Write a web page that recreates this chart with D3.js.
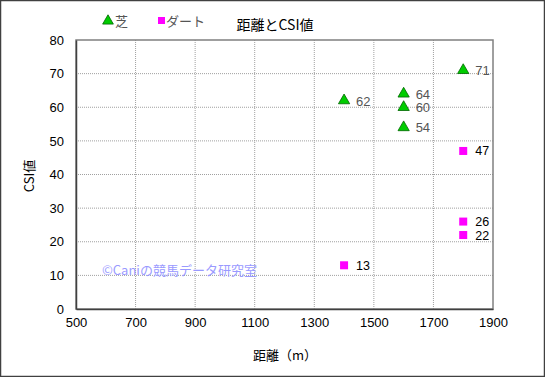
<!DOCTYPE html>
<html>
<head>
<meta charset="utf-8">
<script src="https://cdn.jsdelivr.net/npm/d3@7"></script>
<style>
  body { margin: 0; background: #fff; }
  svg { display: block; font-family: "Liberation Sans", "Noto Sans CJK JP", sans-serif; }
</style>
</head>
<body>
<div id="chart"></div>
<script>
// data
var turfDist = [1400, 1600, 1600, 1600, 1800];
var turfCsi = [62, 64, 60, 54, 71];
var dirtDist = [1400, 1800, 1800, 1800];
var dirtCsi = [13, 47, 26, 22];
var xTicks = [500, 700, 900, 1100, 1300, 1500, 1700, 1900];
var yTicks = [0, 10, 20, 30, 40, 50, 60, 70, 80];

var W = 545, H = 377;
var margin = { top: 40, right: 52, bottom: 68, left: 76 };
var width = W - margin.left - margin.right,
    height = H - margin.top - margin.bottom;

var svg = d3.select("#chart").append("svg")
    .attr("width", W)
    .attr("height", H);

// outer frame
svg.append("rect")
    .attr("x", 0.5).attr("y", 0.5)
    .attr("width", W - 1).attr("height", H - 1)
    .attr("fill", "#fff")
    .attr("stroke", "#404040")
    .attr("stroke-width", 1.5);

var g = svg.append("g")
    .attr("transform", "translate(" + margin.left + "," + margin.top + ")");

var x = d3.scaleLinear().domain([500, 1900]).range([0, width]);
var y = d3.scaleLinear().domain([0, 80]).range([height, 0]);

// grid
g.selectAll(".vgrid").data(xTicks.slice(1, -1)).enter().append("line")
    .attr("x1", function(d) { return x(d); }).attr("x2", function(d) { return x(d); })
    .attr("y1", 0).attr("y2", height)
    .attr("stroke", "#a0a0a0").attr("stroke-dasharray", "1,1");
g.selectAll(".hgrid").data(yTicks.slice(1, -1)).enter().append("line")
    .attr("y1", function(d) { return y(d); }).attr("y2", function(d) { return y(d); })
    .attr("x1", 0).attr("x2", width)
    .attr("stroke", "#a0a0a0").attr("stroke-dasharray", "1,1");

// plot frame
g.append("rect")
    .attr("width", width).attr("height", height)
    .attr("fill", "none").attr("stroke", "#808080").attr("stroke-width", 1.5);

// axes
var xAxis = d3.axisBottom(x).tickValues(xTicks).tickSize(0).tickPadding(9).tickFormat(d3.format("d"));
var yAxis = d3.axisLeft(y).tickValues(yTicks).tickSize(0).tickPadding(12).tickFormat(d3.format("d"));

var xg = g.append("g").attr("transform", "translate(0," + height + ")").call(xAxis);
var yg = g.append("g").call(yAxis);
[xg, yg].forEach(function(a) {
    a.select(".domain").attr("stroke", "#404040").attr("stroke-width", 1.5);
    a.selectAll("text").attr("font-size", 13).attr("fill", "#000")
        .attr("font-family", "Liberation Sans, sans-serif");
});

// watermark
g.append("text")
    .attr("x", 26).attr("y", 235)
    .attr("font-size", 13).attr("fill", "#9a9aff")
    .attr("font-family", "Noto Sans CJK JP, sans-serif")
    .text("©Caniの競馬データ研究室");

// turf markers
var tri = d3.symbol().type(d3.symbolTriangle).size(55);
turfDist.forEach(function(d, i) {
    g.append("path")
        .attr("d", tri)
        .attr("transform", "translate(" + x(d) + "," + y(turfCsi[i]) + ")")
        .attr("fill", "#00cc00").attr("stroke", "#006600").attr("stroke-width", 0.8);
    g.append("text")
        .attr("x", x(d) + 12).attr("y", y(turfCsi[i]) + 5)
        .attr("font-size", 13).attr("fill", "#555")
        .text(turfCsi[i]);
});

// dirt markers
dirtDist.forEach(function(d, i) {
    g.append("rect")
        .attr("x", x(d) - 4).attr("y", y(dirtCsi[i]) - 4)
        .attr("width", 8).attr("height", 8)
        .attr("fill", "#ff00ff");
    g.append("text")
        .attr("x", x(d) + 12).attr("y", y(dirtCsi[i]) + 4.5)
        .attr("font-size", 12.5).attr("fill", "#000")
        .text(dirtCsi[i]);
});

// titles
svg.append("text")
    .attr("x", 275).attr("y", 30)
    .attr("text-anchor", "middle")
    .attr("font-size", 14).attr("fill", "#000")
    .attr("font-family", "Noto Sans CJK JP, sans-serif")
    .text("距離とCSI値");

svg.append("text")
    .attr("x", 285).attr("y", 360)
    .attr("text-anchor", "middle")
    .attr("font-size", 13).attr("fill", "#000")
    .attr("font-family", "Noto Sans CJK JP, sans-serif")
    .text("距離（m）");

svg.append("text")
    .attr("transform", "translate(34,176) rotate(-90)")
    .attr("text-anchor", "middle")
    .attr("font-size", 13).attr("fill", "#000")
    .attr("font-family", "Noto Sans CJK JP, sans-serif")
    .text("CSI値");

// legend
var legend = svg.append("g");
legend.append("path")
    .attr("d", d3.symbol().type(d3.symbolTriangle).size(50))
    .attr("transform", "translate(108,21)")
    .attr("fill", "#00cc00").attr("stroke", "#006600").attr("stroke-width", 0.8);
legend.append("text")
    .attr("x", 115).attr("y", 26)
    .attr("font-size", 13).attr("fill", "#555")
    .attr("font-family", "Noto Sans CJK JP, sans-serif")
    .text("芝");
legend.append("rect")
    .attr("x", 158).attr("y", 17).attr("width", 7).attr("height", 7)
    .attr("fill", "#ff00ff");
legend.append("text")
    .attr("x", 166).attr("y", 26)
    .attr("font-size", 13).attr("fill", "#555")
    .attr("font-family", "Noto Sans CJK JP, sans-serif")
    .text("ダート");
</script>
</body>
</html>
